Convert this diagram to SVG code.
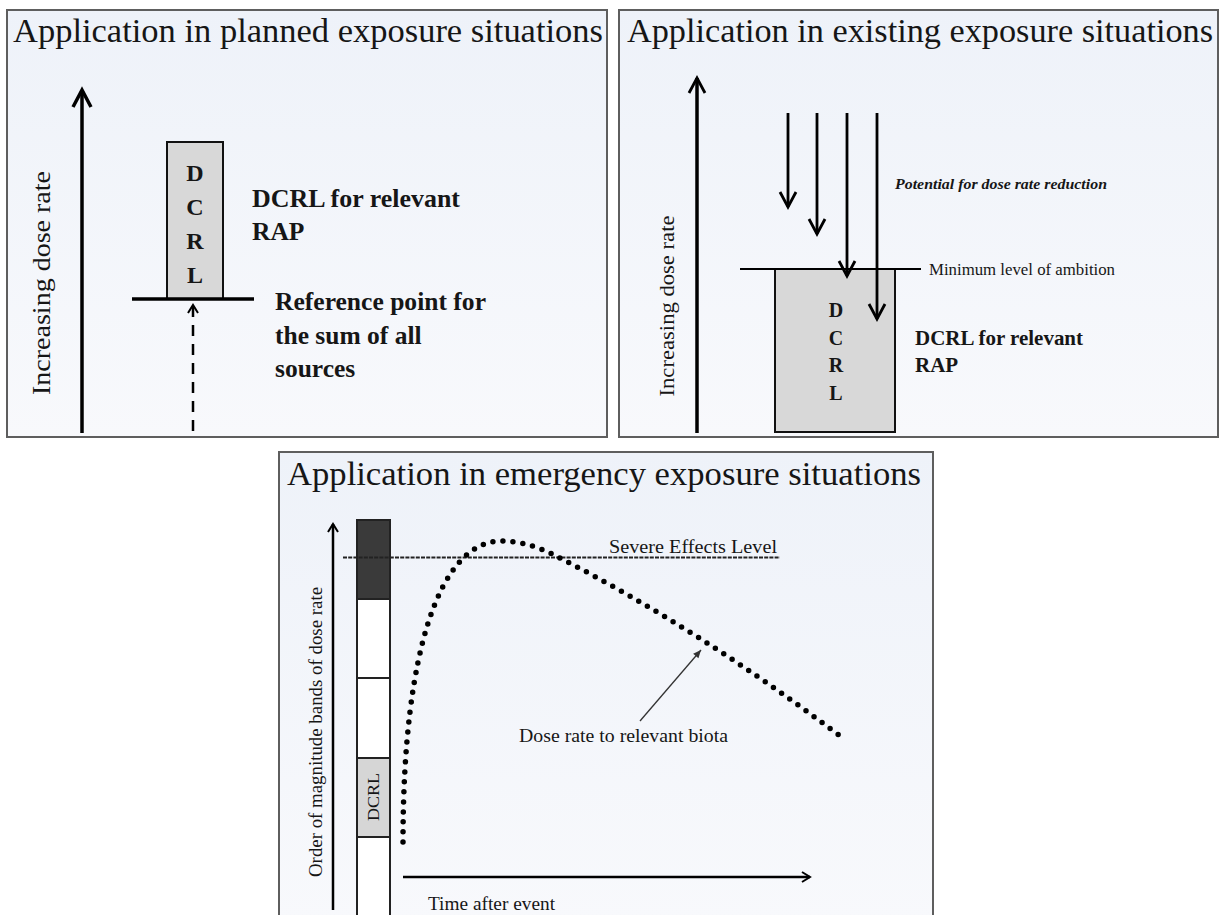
<svg xmlns="http://www.w3.org/2000/svg" width="1225" height="915" viewBox="0 0 1225 915">
  <defs>
    <linearGradient id="panelFill" x1="0" y1="0" x2="0" y2="1">
      <stop offset="0" stop-color="#eef2f9"/>
      <stop offset="1" stop-color="#f8f9fc"/>
    </linearGradient>
    <!-- open chevron heads -->
    <marker id="headBig" markerUnits="userSpaceOnUse" viewBox="-22 -14 28 28" refX="0" refY="0" markerWidth="28" markerHeight="28" orient="auto" overflow="visible">
      <path d="M-17,-9 L0,0 L-17,9" fill="none" stroke="#000" stroke-width="3.5"/>
    </marker>
    <marker id="headMid" markerUnits="userSpaceOnUse" viewBox="-20 -12 24 24" refX="0" refY="0" markerWidth="24" markerHeight="24" orient="auto" overflow="visible">
      <path d="M-15,-8 L0,0 L-15,8" fill="none" stroke="#000" stroke-width="2.8"/>
    </marker>
    <marker id="headSmall" markerUnits="userSpaceOnUse" viewBox="-12 -8 16 16" refX="0" refY="0" markerWidth="16" markerHeight="16" orient="auto" overflow="visible">
      <path d="M-8,-5 L0,0 L-8,5" fill="none" stroke="#000" stroke-width="2"/>
    </marker>
    <marker id="headThin" markerUnits="userSpaceOnUse" viewBox="-12 -8 16 16" refX="0" refY="0" markerWidth="16" markerHeight="16" orient="auto" overflow="visible">
      <path d="M-8,-3.5 L0,0 L-8,3.5 Z" fill="#333" stroke="none"/>
    </marker>
  </defs>
  <style>
    .panel { fill: url(#panelFill); stroke: #5e5e5e; stroke-width: 2; }
    .title { font-family: "Liberation Serif", "Times New Roman", serif; fill: #161616; }
    .serif { font-family: "Liberation Serif", "Times New Roman", serif; fill: #161616; }
    .bold { font-weight: bold; }
    .axis { stroke: #000; stroke-width: 3.5; fill: none; }
    .box { fill: #d8d8d8; stroke: #111; stroke-width: 2; }
  </style>

  <rect width="1225" height="915" fill="#ffffff"/>

  <!-- planned exposure panel -->
  <g id="panel-planned">
    <rect class="panel" x="7" y="10" width="600" height="427"/>
    <text class="title" x="13" y="42" font-size="33" textLength="590" lengthAdjust="spacingAndGlyphs">Application in planned exposure situations</text>
    <line class="axis" x1="82" y1="433" x2="82" y2="90" marker-end="url(#headBig)"/>
    <text class="serif" transform="translate(50,283) rotate(-90)" font-size="26" text-anchor="middle" textLength="224" lengthAdjust="spacingAndGlyphs">Increasing dose rate</text>
    <g id="planned-dcrl">
      <rect class="box" x="167" y="142" width="56" height="157"/>
      <g class="serif bold" font-size="24" text-anchor="middle">
        <text x="195" y="181">D</text>
        <text x="195" y="215">C</text>
        <text x="195" y="249">R</text>
        <text x="195" y="283">L</text>
      </g>
    </g>
    <line x1="132" y1="299" x2="254" y2="299" stroke="#000" stroke-width="3.5"/>
    <line x1="193" y1="431" x2="193" y2="305" stroke="#000" stroke-width="2.5" stroke-dasharray="11 8" marker-end="url(#headSmall)"/>
    <g class="serif bold" font-size="25.5">
      <text x="252" y="207" textLength="208" lengthAdjust="spacingAndGlyphs">DCRL for relevant</text>
      <text x="252" y="240">RAP</text>
      <text x="275" y="310" textLength="211" lengthAdjust="spacingAndGlyphs">Reference point for</text>
      <text x="275" y="344">the sum of all</text>
      <text x="275" y="377">sources</text>
    </g>
  </g>

  <!-- existing exposure panel -->
  <g id="panel-existing">
    <rect class="panel" x="619" y="10" width="599" height="427"/>
    <text class="title" x="627" y="42" font-size="33" textLength="586" lengthAdjust="spacingAndGlyphs">Application in existing exposure situations</text>
    <line class="axis" x1="697" y1="433" x2="697" y2="78" stroke-width="3" marker-end="url(#headMid)"/>
    <text class="serif" transform="translate(674,306) rotate(-90)" font-size="21.5" text-anchor="middle" textLength="181" lengthAdjust="spacingAndGlyphs">Increasing dose rate</text>
    <g id="existing-dcrl">
      <rect class="box" x="775" y="269" width="120" height="163"/>
      <g class="serif bold" font-size="20" text-anchor="middle">
        <text x="836" y="317">D</text>
        <text x="836" y="345">C</text>
        <text x="836" y="372">R</text>
        <text x="836" y="400">L</text>
      </g>
    </g>
    <line x1="740" y1="269" x2="921" y2="269" stroke="#000" stroke-width="2"/>
    <text class="serif" x="929" y="275" font-size="16" textLength="186" lengthAdjust="spacingAndGlyphs">Minimum level of ambition</text>
    <text class="serif bold" x="895" y="189" font-size="15.5" font-style="italic" textLength="212" lengthAdjust="spacingAndGlyphs">Potential for dose rate reduction</text>
    <g class="serif bold" font-size="21">
      <text x="915" y="345" textLength="168" lengthAdjust="spacingAndGlyphs">DCRL for relevant</text>
      <text x="915" y="372">RAP</text>
    </g>
  </g>

  <!-- emergency exposure panel -->
  <g id="panel-emergency">
    <rect class="panel" x="279" y="452" width="654" height="470"/>
    <text class="title" x="287" y="485" font-size="34" textLength="634" lengthAdjust="spacingAndGlyphs">Application in emergency exposure situations</text>
    <line x1="333" y1="910" x2="333" y2="524" stroke="#000" stroke-width="2.5" marker-end="url(#headSmall)"/>
    <text class="serif" transform="translate(322,732) rotate(-90)" font-size="19" text-anchor="middle" textLength="290" lengthAdjust="spacingAndGlyphs">Order of magnitude bands of dose rate</text>
    <g id="bands" stroke="#222" stroke-width="2">
      <rect x="357" y="520" width="33" height="79" fill="#3a3a3a"/>
      <rect x="357" y="599" width="33" height="79" fill="#ffffff"/>
      <rect x="357" y="678" width="33" height="80" fill="#ffffff"/>
      <rect x="357" y="758" width="33" height="79" fill="#d6d6d6"/>
      <rect x="357" y="837" width="33" height="85" fill="#ffffff"/>
    </g>
    <text class="serif" transform="translate(379,797) rotate(-90)" font-size="17" text-anchor="middle" textLength="48" lengthAdjust="spacingAndGlyphs">DCRL</text>
    <line x1="343" y1="557.5" x2="780" y2="557.5" stroke="#222" stroke-width="2" stroke-dasharray="4 1.2"/>
    <text class="serif" x="609" y="553" font-size="19" textLength="168" lengthAdjust="spacingAndGlyphs">Severe Effects Level</text>
    <path d="M403,842 C403,650 440,541 502,541 C525,541 545,550 560,558 Q700,630 840,736" fill="none" stroke="#000" stroke-width="5.5" stroke-linecap="round" stroke-dasharray="0 10"/>
    <line x1="640" y1="721" x2="701" y2="650" stroke="#333" stroke-width="1.3" marker-end="url(#headThin)"/>
    <text class="serif" x="519" y="742" font-size="19" textLength="209" lengthAdjust="spacingAndGlyphs">Dose rate to relevant biota</text>
    <line x1="403" y1="877" x2="810" y2="877" stroke="#000" stroke-width="2.5" marker-end="url(#headSmall)"/>
    <text class="serif" x="428" y="910" font-size="19" textLength="127" lengthAdjust="spacingAndGlyphs">Time after event</text>
  </g>

  <!-- down arrows: potential for dose rate reduction -->
  <g id="connectors" stroke="#000" stroke-width="2.8" fill="none">
    <line x1="788" y1="113" x2="788" y2="207" marker-end="url(#headMid)"/>
    <line x1="817" y1="113" x2="817" y2="234" marker-end="url(#headMid)"/>
    <line x1="847" y1="113" x2="847" y2="276" marker-end="url(#headMid)"/>
    <line x1="877" y1="113" x2="877" y2="319" marker-end="url(#headMid)"/>
  </g>
</svg>
